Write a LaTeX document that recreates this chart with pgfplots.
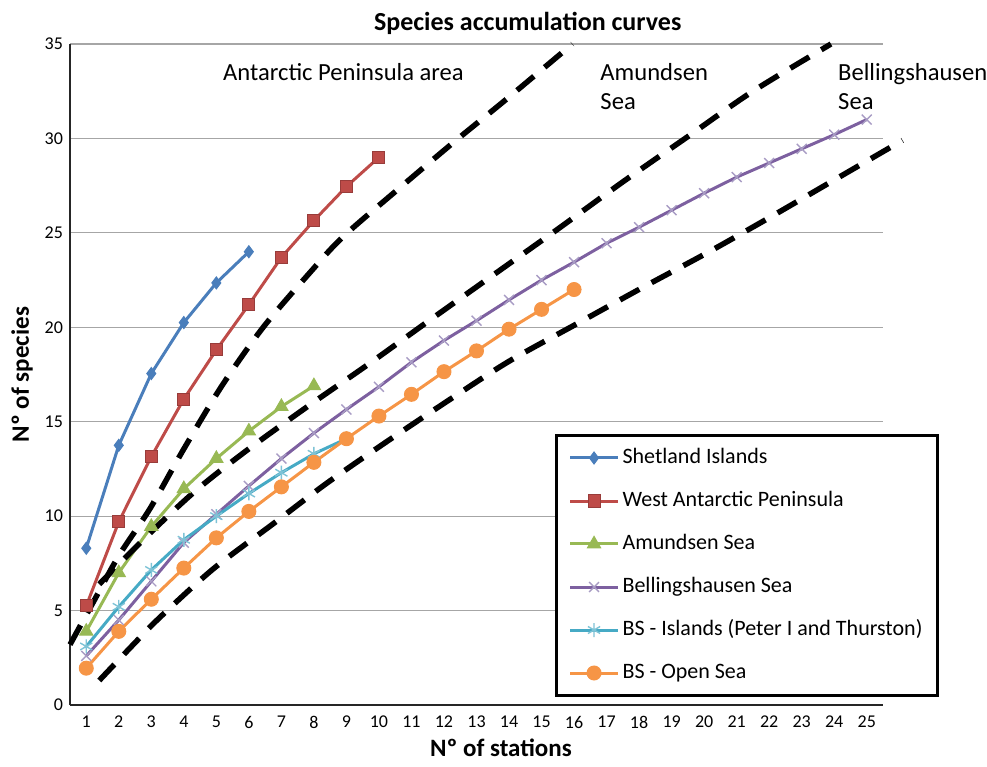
\documentclass[border=0pt]{standalone}
\usepackage{pgfplots}
\pgfplotsset{compat=1.18}
\usepackage{fontspec}
\setmainfont{Carlito}
\definecolor{cblue}{HTML}{4A7EBB}
\definecolor{cred}{HTML}{BE4B48}
\definecolor{cgreen}{HTML}{98B954}
\definecolor{cpurple}{HTML}{7D60A0}
\definecolor{cpurplemark}{HTML}{A89CC4}
\definecolor{ccyan}{HTML}{46AAC5}
\definecolor{corange}{HTML}{F69546}
\begin{document}
\begin{tikzpicture}
\begin{axis}[
  name=ax,
  scale only axis,
  width=406.5pt, height=330.5pt,
  xmin=0.5, xmax=25.5, ymin=0, ymax=35,
  xtick={1,...,25}, ytick={0,5,...,35},
  axis x line*=bottom, axis y line*=left,
  axis line style={-, draw=black!85, line width=1pt},
  tick style={draw=none},
  ymajorgrids, major grid style={draw=gray!70, line width=0.6pt},
  /pgf/number format/assume math mode=true,
  ticklabel style={font=\fontsize{9}{10}\selectfont},
  xticklabel style={anchor=center, yshift=-8.5pt},
  xlabel={Nº of stations}, ylabel={Nº of species},
  label style={font=\bfseries\fontsize{12.5}{14}\selectfont},
  xlabel style={at={(axis description cs:0.53,-0.065)}, anchor=center},
  ylabel style={at={(axis description cs:-0.059,0.5)}, anchor=center},
  clip=false,
  legend cell align=left,
  legend image code/.code={\draw[mark repeat=2,mark phase=2] plot coordinates {(0pt,0pt) (12pt,0pt) (24pt,0pt)};},
  legend style={at={(rel axis cs:0.5966,0.41)}, anchor=north west, draw=black, line width=1.5pt, fill=white,
    inner xsep=6pt, inner ysep=4pt, row sep=7pt,
    font=\fontsize{11}{13}\selectfont,
    nodes={inner xsep=1.5pt, inner ysep=2pt, text height=8pt, text depth=2.5pt}},
]
\addplot[cblue, line width=1.5pt, mark=diamond*, mark size=3pt, mark options={solid, fill=cblue, line width=0.5pt}]
  coordinates {(1,8.3) (2,13.75) (3,17.55) (4,20.25) (5,22.35) (6,24.0)};
\addlegendentry{Shetland Islands}
\addplot[cred, line width=1.5pt, mark=square*, mark size=3pt, mark options={solid, fill=cred, draw=cred!80!black, line width=0.5pt}]
  coordinates {(1,5.25) (2,9.7) (3,13.15) (4,16.2) (5,18.8) (6,21.2) (7,23.7) (8,25.65) (9,27.45) (10,29.0)};
\addlegendentry{West Antarctic Peninsula}
\addplot[cgreen, line width=1.5pt, mark=triangle*, mark size=3.8pt, mark options={solid, fill=cgreen, line width=0.5pt}]
  coordinates {(1,3.9) (2,7.0) (3,9.45) (4,11.45) (5,13.05) (6,14.5) (7,15.8) (8,16.9)};
\addlegendentry{Amundsen Sea}
\addplot[cpurple, line width=1.5pt, mark=x, mark size=3.5pt, mark options={solid, draw=cpurplemark, line width=0.7pt}]
  coordinates {(1,2.6) (2,4.5) (3,6.55) (4,8.6) (5,10.1) (6,11.6) (7,13.05) (8,14.4) (9,15.65) (10,16.85)
  (11,18.15) (12,19.3) (13,20.35) (14,21.45) (15,22.5) (16,23.45) (17,24.45) (18,25.3) (19,26.2) (20,27.1)
  (21,27.95) (22,28.7) (23,29.45) (24,30.2) (25,31.0)};
\addlegendentry{Bellingshausen Sea}
\addplot[ccyan, line width=1.5pt, mark=asterisk, mark size=3.5pt, mark options={solid, draw=ccyan!70!white, line width=0.7pt}]
  coordinates {(1,3.1) (2,5.2) (3,7.15) (4,8.75) (5,10.0) (6,11.2) (7,12.3) (8,13.3) (9,14.1)};
\addlegendentry{BS - Islands (Peter I and Thurston)}
\addplot[corange, line width=1.5pt, mark=*, mark size=3.5pt, mark options={solid, fill=corange, line width=0.5pt}]
  coordinates {(1,1.95) (2,3.9) (3,5.6) (4,7.25) (5,8.85) (6,10.25) (7,11.55) (8,12.85) (9,14.1) (10,15.3)
  (11,16.45) (12,17.65) (13,18.75) (14,19.9) (15,20.95) (16,22.0)};
\addlegendentry{BS - Open Sea}
% dashed boundary curves
\addplot[black, line width=2.75pt, dash pattern=on 11pt off 7pt, smooth, forget plot]
  coordinates {(0.5,3.2) (1.2,5.4) (2.0,7.9) (2.96,10.4) (3.98,13.5) (5.17,16.9) (6.44,20.0) (7.88,22.9) (8.9,24.8) (10.65,27.4) (12.3,29.8) (13.9,32.05) (15.95,35.0)};
\addplot[black, line width=2.75pt, dash pattern=on 11pt off 7pt, smooth, forget plot]
  coordinates {(1.4,6.4) (2.96,9.1) (4.4,11.4) (5.95,13.5) (7.8,15.8) (9.64,18.0) (11.5,20.3) (13.5,22.75) (15.5,25.2) (17.5,27.7) (19.5,30.1) (21.5,32.5) (23.9,35.0)};
\addplot[black, line width=2.75pt, dash pattern=on 11pt off 7pt, smooth, forget plot]
  coordinates {(1.4,1.3) (2.5,3.3) (3.3,4.7) (4.9,7.2) (6.75,9.6) (8.4,11.75) (10.2,13.9) (12.2,16.2) (14.0,18.2) (16.1,20.2) (18.1,22.1) (20.1,23.95) (22.0,25.8) (24.0,27.8) (26.1,29.9)};
% annotations
\node[anchor=west, inner sep=0pt, font=\fontsize{12.3}{14.5}\selectfont] at (axis cs:5.2,33.5) {Antarctic Peninsula area};
\node[anchor=west, inner sep=0pt, align=left, font=\fontsize{12.3}{14.5}\selectfont] at (axis cs:16.8,32.75) {Amundsen\\Sea};
\node[anchor=west, inner sep=0pt, align=left, font=\fontsize{12.3}{14.5}\selectfont] at (axis cs:24.11,32.75) {Bellingshausen\\Sea};
\node[anchor=center, yshift=10.5pt, font=\bfseries\fontsize{13}{15}\selectfont] at (rel axis cs:0.563,1) {Species accumulation curves};
\end{axis}
\pgfresetboundingbox
\path[use as bounding box] ([shift={(-35pt,-30.5pt)}]ax.south west) rectangle ([shift={(52pt,22pt)}]ax.north east);
\end{tikzpicture}
\end{document}
